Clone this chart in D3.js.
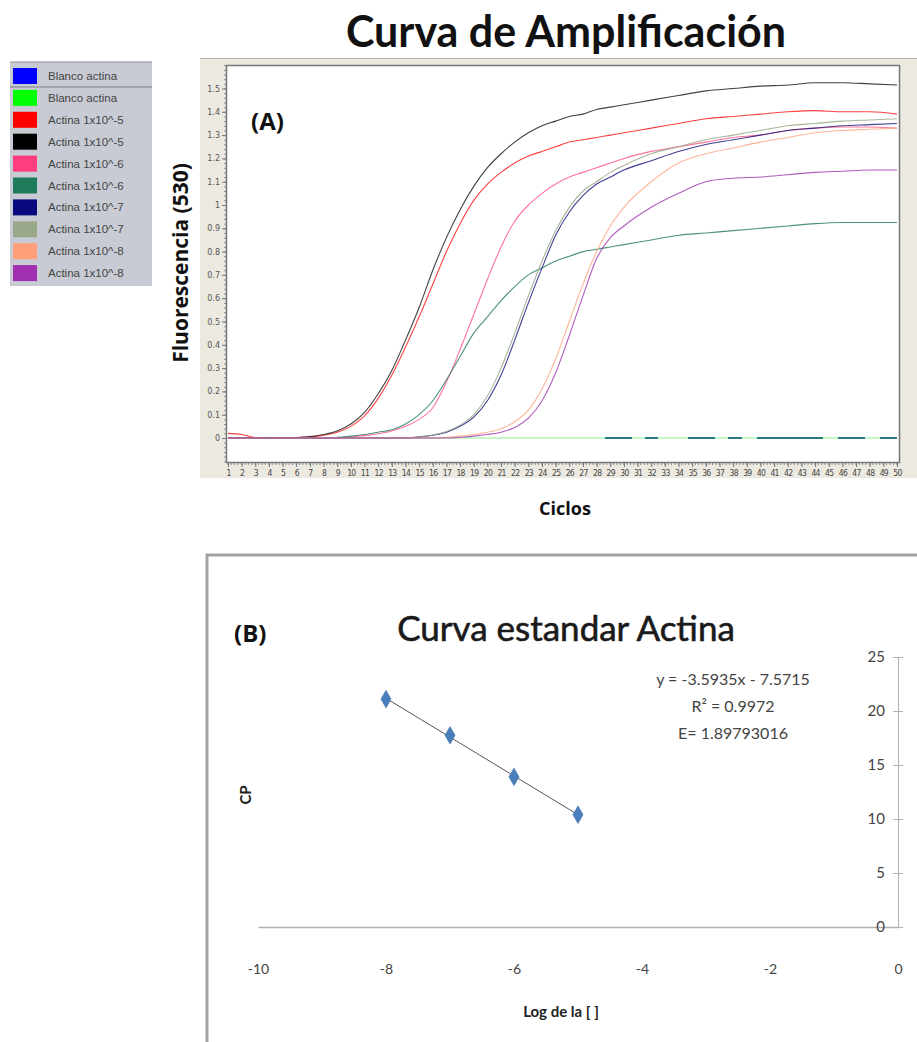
<!DOCTYPE html>
<html lang="es">
<head>
<meta charset="utf-8">
<title>Curva de Amplificación</title>
<script src="https://cdn.jsdelivr.net/npm/d3@7"></script>
<style>
  body { margin: 0; background: #fff; }
  svg { display: block; }
</style>
</head>
<body>
<svg width="917" height="1042"></svg>
<script>
// ---- datos (A): fluorescencia por ciclo
var ciclos = [1,2,3,4,5,6,7,8,9,10,11,12,13,14,15,16,17,18,19,20,21,22,23,24,25,26,27,28,29,30,32,34,36,38,40,42,44,46,48,50];

var blancoAzul  = [0,0,0,0,0,0,0,0,0,0,0,0,0,0,0,0,0,0,0,0,0,0,0,0,0,0,0,0,0,0,0,0,0,0,0,0,0,0,0,0];
var blancoVerde = [0,0,0,0,0,0,0,0,0,0,0,0,0,0,0,0,0,0,0,0,0,0,0,0,0,0,0,0,0,0,0,0,0,0,0,0,0,0,0,0];
var act5a = [0.02,0.015,0.002,0,0,0.002,0.005,0.012,0.025,0.05,0.095,0.17,0.27,0.39,0.52,0.66,0.80,0.92,1.02,1.09,1.14,1.18,1.21,1.23,1.25,1.27,1.28,1.29,1.30,1.31,1.33,1.35,1.37,1.38,1.39,1.40,1.405,1.40,1.40,1.39];
var act5b = [0,0,0,0,0,0.002,0.006,0.015,0.03,0.06,0.11,0.19,0.29,0.42,0.56,0.72,0.86,0.98,1.08,1.16,1.22,1.27,1.31,1.34,1.36,1.38,1.39,1.41,1.42,1.43,1.45,1.47,1.49,1.50,1.51,1.515,1.525,1.525,1.52,1.515];
var act6a = [0,0,0,0,0,0,0,0,0,0.005,0.01,0.018,0.03,0.05,0.08,0.13,0.24,0.38,0.53,0.68,0.82,0.93,1.00,1.05,1.09,1.12,1.14,1.16,1.18,1.20,1.23,1.25,1.27,1.29,1.30,1.32,1.33,1.335,1.335,1.33];
var act6b = [0,0,0,0,0,0,0,0,0.003,0.008,0.015,0.025,0.035,0.06,0.10,0.16,0.25,0.35,0.45,0.52,0.59,0.65,0.70,0.73,0.76,0.78,0.80,0.81,0.82,0.83,0.85,0.87,0.88,0.89,0.90,0.91,0.92,0.925,0.925,0.925];
var act7a = [0,0,0,0,0,0,0,0,0,0,0,0,0,0,0.005,0.012,0.025,0.05,0.09,0.16,0.27,0.42,0.58,0.73,0.87,0.97,1.04,1.09,1.12,1.15,1.19,1.23,1.26,1.28,1.30,1.32,1.33,1.34,1.345,1.35];
var act7b = [0,0,0,0,0,0,0,0,0,0,0,0,0,0,0.005,0.013,0.028,0.055,0.10,0.18,0.30,0.45,0.61,0.76,0.89,0.99,1.06,1.10,1.14,1.17,1.22,1.25,1.28,1.30,1.32,1.34,1.35,1.36,1.365,1.37];
var act8a = [0,0,0,0,0,0,0,0,0,0,0,0,0,0,0,0,0.003,0.008,0.015,0.025,0.04,0.07,0.12,0.21,0.34,0.50,0.66,0.80,0.91,0.99,1.10,1.18,1.22,1.245,1.27,1.29,1.31,1.32,1.325,1.33];
var act8b = [0,0,0,0,0,0,0,0,0,0,0,0,0,0,0,0,0,0.003,0.008,0.015,0.025,0.045,0.085,0.16,0.28,0.44,0.61,0.77,0.86,0.91,0.99,1.05,1.10,1.115,1.12,1.13,1.14,1.145,1.15,1.15];

var nombres = ["Blanco actina","Blanco actina","Actina 1x10^-5","Actina 1x10^-5","Actina 1x10^-6","Actina 1x10^-6","Actina 1x10^-7","Actina 1x10^-7","Actina 1x10^-8","Actina 1x10^-8"];
var colores = ["#0000ff","#00ff00","#ff0000","#000000","#ff3d7f","#1f7a5a","#0a0a80","#9aa88a","#ffa07a","#a030b0"];
var series = [blancoVerde, blancoAzul, act5a, act5b, act6a, act6b, act7a, act7b, act8a, act8b];
var coloresLinea = ["#7df07d","#1d6a7c","#ff2020","#202020","#ff5a8c","#2e7f62","#1c1c80","#9aa88a","#ffa888","#a040b0"];

var yTicksA = [0,0.1,0.2,0.3,0.4,0.5,0.6,0.7,0.8,0.9,1,1.1,1.2,1.3,1.4,1.5];
var xTicksA = d3.range(1, 51);

// ---- datos (B): curva estandar
var logConc = [-8,-7,-6,-5];
var cp = [21.1,17.75,13.9,10.4];
var pendiente = -3.5935, intercepto = -7.5715;
var textoEc = ["y = -3.5935x - 7.5715", "R\u00b2 = 0.9972", "E= 1.89793016"];
var xTicksB = [-10,-8,-6,-4,-2,0];
var yTicksB = [0,5,10,15,20,25];

var svg = d3.select("svg");
var fuente = "Lato, 'Open Sans', sans-serif";
var fuenteB = "'Open Sans', Lato, sans-serif";

// ================= (A) =================
svg.append("text").attr("x", 566).attr("y", 47).attr("text-anchor", "middle")
  .style("font-family", fuente).style("font-size", "43px").style("font-weight", "bold")
  .attr("fill", "#111").text("Curva de Amplificación");

// leyenda
var ley = svg.append("g");
ley.append("rect").attr("x", 10).attr("y", 62).attr("width", 142).attr("height", 224)
  .attr("fill", "#c8cbd3");
ley.append("line").attr("x1", 10).attr("x2", 152).attr("y1", 62).attr("y2", 62).attr("stroke", "#8a8d94");
ley.append("line").attr("x1", 10).attr("x2", 152).attr("y1", 87).attr("y2", 87).attr("stroke", "#7c7f86");
var filas = ley.selectAll("g.fila").data(nombres).enter().append("g")
  .attr("transform", function (d, i) { return "translate(0," + (68 + i * 21.9) + ")"; });
filas.append("rect").attr("x", 13).attr("y", 0).attr("width", 24).attr("height", 16)
  .attr("fill", function (d, i) { return colores[i]; });
filas.append("text").attr("x", 48).attr("y", 12)
  .style("font-family", "'Liberation Sans', Arial, sans-serif")
  .style("font-size", "11.5px").attr("fill", "#444").text(function (d) { return d; });

// panel
svg.append("rect").attr("x", 200).attr("y", 58).attr("width", 717).attr("height", 420).attr("fill", "#ece9e0");
svg.append("line").attr("x1", 200).attr("x2", 917).attr("y1", 58.5).attr("y2", 58.5).attr("stroke", "#b5b2a8");

var xA = d3.scaleLinear().domain([1, 50]).range([228, 897]);
var yA = d3.scaleLinear().domain([0, 1.5]).range([438, 88.5]);

svg.append("rect").attr("x", 226.5).attr("y", 65.5).attr("width", 673).attr("height", 397)
  .attr("fill", "#fff").attr("stroke", "#777").attr("stroke-width", 1.5);

// ticks menores
var ejeYmenor = d3.axisLeft(yA).tickValues(d3.range(-0.1, 1.61, 0.02)).tickSize(2).tickFormat("");
svg.append("g").attr("transform", "translate(226,0)").call(ejeYmenor)
  .call(function (g) { g.select(".domain").remove(); g.selectAll("line").attr("stroke", "#888"); });
var ejeXmenor = d3.axisBottom(xA).tickValues(d3.range(0.95, 50.2, 0.25)).tickSize(2).tickFormat("");
svg.append("g").attr("transform", "translate(0,463)").call(ejeXmenor)
  .call(function (g) { g.select(".domain").remove(); g.selectAll("line").attr("stroke", "#888"); });

var ejeY = d3.axisLeft(yA).tickValues(yTicksA).tickSize(4).tickPadding(2).tickFormat(d3.format("~g"));
svg.append("g").attr("transform", "translate(226,0)").call(ejeY)
  .call(function (g) {
    g.select(".domain").remove();
    g.selectAll("line").attr("stroke", "#777");
    g.selectAll("text").style("font-family", "'DejaVu Sans', sans-serif").style("font-size", "8px").attr("fill", "#555");
  });

var ejeX = d3.axisBottom(xA).tickValues(xTicksA).tickSize(4).tickPadding(3);
svg.append("g").attr("transform", "translate(0,463)").call(ejeX)
  .call(function (g) {
    g.select(".domain").remove();
    g.selectAll("line").attr("stroke", "#777");
    g.selectAll("text").style("font-family", "'DejaVu Sans Condensed', 'DejaVu Sans', sans-serif")
      .style("font-size", "8.5px").style("letter-spacing", "-0.7px").attr("fill", "#444");
  });

var linea = d3.line()
  .x(function (d, i) { return xA(ciclos[i]); })
  .y(function (d) { return yA(d); })
  .curve(d3.curveMonotoneX);

svg.append("g").selectAll("path").data(series).enter().append("path")
  .attr("d", function (d) { return linea(d); })
  .attr("fill", "none")
  .attr("stroke", function (d, i) { return coloresLinea[i]; })
  .attr("stroke-width", function (d, i) { return i == 1 ? 2 : 1.1; })
  .attr("stroke-opacity", function (d, i) { return i < 2 ? 0.9 : 0.85; })
  .attr("stroke-dasharray", function (d, i) {
    return i == 1 ? "0,377,27,13,13,30,27,13,14,15,66,15,27,15,20,100" : null;
  });

svg.append("text").attr("x", 251).attr("y", 130)
  .style("font-family", fuenteB).style("font-size", "24px").style("font-weight", "bold")
  .attr("fill", "#111").text("(A)");

svg.append("text").attr("transform", "translate(188,263) rotate(-90)").attr("text-anchor", "middle")
  .style("font-family", fuenteB).style("font-size", "21px").style("font-weight", "bold")
  .attr("fill", "#111").text("Fluorescencia (530)");

svg.append("text").attr("x", 565).attr("y", 515).attr("text-anchor", "middle")
  .style("font-family", fuenteB).style("font-size", "18px").style("font-weight", "bold")
  .attr("fill", "#111").text("Ciclos");

// ================= (B) =================
svg.append("rect").attr("x", 207).attr("y", 555).attr("width", 760).attr("height", 520)
  .attr("fill", "#fff").attr("stroke", "#a3a3a3").attr("stroke-width", 3);

var xB = d3.scaleLinear().domain([-10, 0]).range([258, 898]);
var yB = d3.scaleLinear().domain([0, 25]).range([927, 657]);

svg.append("text").attr("x", 566).attr("y", 641).attr("text-anchor", "middle")
  .style("font-family", fuente).style("font-size", "35px")
  .attr("fill", "#1a1a1a").style("stroke", "#1a1a1a").style("stroke-width", "0.6px").text("Curva estandar Actina");
svg.append("text").attr("x", 234).attr("y", 642)
  .style("font-family", fuenteB).style("font-size", "24px").style("font-weight", "bold")
  .attr("fill", "#111").text("(B)");

var ejeXB = d3.axisBottom(xB).tickValues(xTicksB).tickSize(0).tickPadding(37)
  .tickFormat(function (d) { return String(d); });
svg.append("g").attr("transform", "translate(0," + yB(0) + ")").call(ejeXB)
  .call(function (g) {
    g.select(".domain").attr("stroke", "#b0b0b0").attr("stroke-width", 1.5);
    g.selectAll("text").style("font-family", fuente).style("font-size", "14px").attr("fill", "#444");
  });

var ejeYB = d3.axisLeft(yB).tickValues(yTicksB).tickSize(5).tickPadding(8);
svg.append("g").attr("transform", "translate(" + xB(0) + ",0)").call(ejeYB)
  .call(function (g) {
    g.select(".domain").attr("stroke", "#b0b0b0");
    g.selectAll("line").attr("stroke", "#b0b0b0").attr("x2", 5).attr("x1", -5);
    g.selectAll("text").style("font-family", fuente).style("font-size", "15px").attr("fill", "#444");
  });

svg.append("line")
  .attr("x1", xB(-8)).attr("y1", yB(pendiente * -8 + intercepto))
  .attr("x2", xB(-5)).attr("y2", yB(pendiente * -5 + intercepto))
  .attr("stroke", "#555").attr("stroke-width", 1);

svg.append("g").selectAll("path").data(logConc).enter().append("path")
  .attr("d", d3.symbol().type(d3.symbolDiamond).size(90))
  .attr("transform", function (d, i) { return "translate(" + xB(d) + "," + yB(cp[i]) + ")"; })
  .attr("fill", "#4a7ebb").attr("stroke", "#3b6aa3").attr("stroke-width", 0.5);

svg.append("g").selectAll("text").data(textoEc).enter().append("text")
  .attr("x", 733).attr("y", function (d, i) { return 685 + i * 27; }).attr("text-anchor", "middle")
  .style("font-family", fuente).style("font-size", "16px").attr("fill", "#444")
  .text(function (d) { return d; });

svg.append("text").attr("transform", "translate(251,795) rotate(-90)").attr("text-anchor", "middle")
  .style("font-family", fuente).style("font-size", "15px").style("font-weight", "bold")
  .attr("fill", "#222").text("CP");

svg.append("text").attr("x", 561).attr("y", 1017).attr("text-anchor", "middle")
  .style("font-family", fuente).style("font-size", "15px").style("font-weight", "bold")
  .attr("fill", "#222").text("Log de la [ ]");
</script>
</body>
</html>
